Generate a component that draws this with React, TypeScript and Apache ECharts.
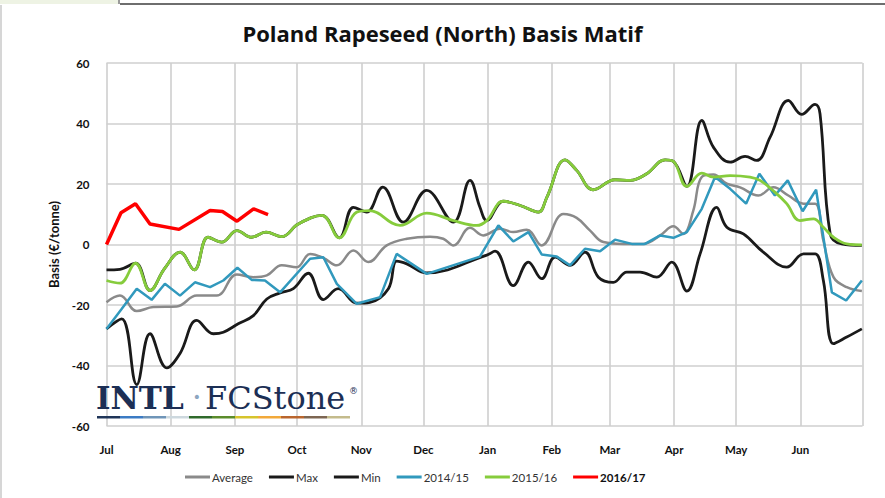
import React, { useEffect, useRef } from "react";
import * as echarts from "echarts";

// Days since 1 July for each month boundary
const monthStarts = [0, 31, 62, 92, 123, 153, 184, 215, 243, 274, 304, 335, 365];
const monthNames = ["Jul", "Aug", "Sep", "Oct", "Nov", "Dec", "Jan", "Feb", "Mar", "Apr", "May", "Jun"];

// [day of season, basis €/t]
const average: [number, number][] = [
  [0, -19.1], [6.5, -16.9], [14.6, -22], [22.6, -20.7], [33.9, -20.5], [43.6, -16.9], [53.2, -16.9],
  [62.9, -9.9], [70.9, -10.8], [77.4, -10.2], [84.6, -6.9], [91.8, -7.5], [98.3, -3.1], [104.7, -4.4],
  [111.2, -6.9], [119.2, -2], [126.4, -5.8], [135.3, -0.3], [145, 1.9], [156.2, 2.6], [162.6, 1.9],
  [167.5, -0.3], [175.5, 5.5], [181.9, 3], [190, 5.2], [196.4, 4.1], [202.9, 4.9], [210.1, -0.3],
  [220.6, 10.1], [227, 8.8], [233.5, 4.6], [239.9, 0.8], [249.5, 0.2], [259.2, 0.2], [267.3, 3],
  [273.7, 6], [278.5, 3.5], [283.3, 11.2], [287.4, 22.3], [293, 23.1], [299.5, 20.1], [305.9, 18.9],
  [314.7, 16.2], [322, 18.9], [329.2, 16.2], [336.5, 13.5], [342.1, 13.5], [346.1, 1.3], [351, -10.8],
  [357.4, -14.1], [364.7, -15.4],
];

const maxLine: [number, number][] = [
  [0, -8.4], [6.5, -8.2], [14, -6.2], [21, -15.2], [28, -8], [35.5, -2.5], [42.4, -8.4], [49, 2.4],
  [55.6, 0.8], [63, 4.6], [70, 2.4], [77, 4.1], [84.6, 2.6], [92.6, 6.8], [104, 9.6], [112.4, 2.2],
  [119.2, 12.3], [125.6, 10.7], [133.4, 19], [143.3, 7.4], [154.6, 17.9], [167.5, 7.4], [175.5, 21.2],
  [180.3, 12.3], [183.6, 7.9], [191.6, 14.3], [199.7, 12.9], [208.5, 10.7], [212.6, 15.6], [221.4, 28],
  [227, 24.5], [235, 18.1], [245.5, 21.4], [252.8, 21.2], [260.8, 23.4], [269.7, 28], [273.7, 27.5],
  [280.2, 19.2], [287.4, 41], [293, 32.2], [301.1, 27.2], [308.3, 29.1], [313.9, 27.8], [320.4, 35.5],
  [329.2, 47.6], [335.6, 43], [342.1, 46.3], [344.5, 43.2], [349.4, 3.5], [355, 0.2], [364.7, -0.3],
];

const minLine: [number, number][] = [
  [0, -27.9], [7.3, -24.6], [14.6, -46.3], [21, -29.5], [29.1, -40.8], [35.5, -36], [43.6, -25.1],
  [51.6, -29.5], [56.4, -29], [63.6, -26.2], [70.9, -23.5], [77.4, -18], [83.8, -16], [90.2, -14.6],
  [97.4, -9.5], [104.7, -18.2], [111.9, -14.6], [120.8, -19.4], [127.2, -19.1], [136.1, -14.6],
  [140.1, -5.5], [145, -6.4], [154.6, -9.4], [183.6, -3.5], [187.6, -2.2], [196.4, -13.6], [203.7, -5.8],
  [210.1, -11.3], [216.6, -4.2], [223.8, -6.9], [231, -2.5], [237.5, -10.8], [244.7, -12.5],
  [251.2, -9.1], [257.6, -9.1], [265.7, -10.8], [272.9, -5.8], [280.2, -15.4], [286.6, -3.1],
  [294.6, 12.3], [299.5, 5.7], [307.5, 3.5], [317.1, -2.5], [328.4, -7.5], [336.5, -3.1], [342.1, -3.1],
  [346.1, -11.9], [351, -32.8], [357.4, -30.6], [364.7, -27.9],
];

const season1415: [number, number][] = [
  [0, -27.9], [7.3, -21.3], [14.6, -14.6], [21.8, -18.3], [28.2, -13], [35.5, -16.9], [42.7, -12.5],
  [50, -14.1], [56.4, -11.9], [63.2, -7.7], [70.1, -11.7], [76.5, -11.9], [83.8, -15.8], [98.3, -4.7],
  [104.7, -4.2], [111.2, -13], [120.8, -19.6], [132.1, -17.4], [140.1, -3.1], [154.6, -9.7],
  [180.3, -4], [189.2, 6.3], [196.4, 1], [203.7, 4.1], [210.1, -3.3], [217.4, -4], [223.8, -6.9],
  [231, -1.4], [238.3, -2.2], [245.5, 1.6], [253.6, 0.2], [260, 0.2], [267.3, 3], [273.7, 2.2],
  [280.2, 4.1], [287.4, 11.8], [293.8, 22.3], [301.1, 18.4], [308.8, 13.5], [315.2, 23.4],
  [322.7, 16.2], [328.9, 21.2], [336.1, 11], [342.6, 18.1], [350.2, -15.8], [357.1, -18.5],
  [364.7, -11.9],
];

const season1516: [number, number][] = [
  [0, -11.9], [6.5, -12.8], [14, -6.2], [21, -15.2], [28, -8], [35.5, -2.5], [42.4, -8.4], [49, 2.4],
  [55.6, 0.8], [63, 4.6], [70, 2.4], [77, 4.1], [84.6, 2.6], [92.6, 6.8], [104, 9.6], [112.4, 2.2],
  [120.8, 10.7], [127, 11.2], [141.7, 6.3], [154.6, 10.4], [167.5, 7.9], [178.8, 6.3], [183.6, 7.9],
  [191.6, 14.3], [199.7, 12.9], [208.5, 10.7], [212.6, 15.6], [221.4, 28], [227, 24.5], [235, 18.1],
  [245.5, 21.4], [252.8, 21.2], [260.8, 23.4], [269.7, 28], [273.7, 27.5], [280.2, 19.2],
  [287.4, 23.6], [293, 22.3], [301.1, 22.8], [310.7, 22.3], [315.5, 21.2], [322.7, 17.3],
  [328.4, 13.5], [334.8, 7.9], [341.3, 8.5], [346.1, 5.7], [351, 2.4], [357.4, 0.2], [364.7, -0.1],
];

const season1617: [number, number][] = [
  [0, 0], [7, 10.5], [14, 13.5], [21, 6.8], [35, 5], [50, 11.2], [56, 10.9], [63, 7.7], [71, 11.8],
  [78, 9.9],
];

const logoStripeColors = [
  "#1f3558", "#3b7bc4", "#6f95b8", "#cdd8de", "#2f6a2c", "#5b8c2b",
  "#d6c42c", "#f2a93a", "#b9652d", "#7d6652", "#c4bb8c",
];

const FONT = "Lato, 'Liberation Sans', sans-serif";

export default function App() {
  const ref = useRef<HTMLDivElement>(null);

  useEffect(() => {
    if (!ref.current) return;
    const chart = echarts.init(ref.current, null, { renderer: "svg" });

    const lineSeries = (name: string, data: [number, number][], color: string, width: number, smooth: boolean | number) => ({
      name,
      type: "line",
      data,
      showSymbol: false,
      symbol: "none",
      smooth,
      lineStyle: { color, width },
      itemStyle: { color },
      emphasis: { disabled: true },
    });

    const stripe = logoStripeColors.map((c, i) => ({
      type: "rect",
      shape: { x: 97 + i * 23, y: 416, width: 23, height: 2.5 },
      style: { fill: c },
      z: 100,
    }));

    chart.setOption({
      animation: false,
      backgroundColor: "#ffffff",
      textStyle: { fontFamily: FONT },
      title: {
        text: "Poland Rapeseed (North) Basis Matif",
        left: "center",
        top: 17,
        textStyle: { fontFamily: "'Open Sans', Lato, sans-serif", fontSize: 22, fontWeight: "bold", color: "#111" },
      },
      grid: { left: 106.5, right: 22.5, top: 63, bottom: 72, containLabel: false },
      xAxis: {
        type: "value",
        min: 0,
        max: 365,
        axisLine: { show: false },
        axisTick: { show: false, customValues: monthStarts },
        axisLabel: {
          customValues: monthStarts.slice(0, 12),
          formatter: (v: number) => {
            const i = monthStarts.indexOf(Math.round(v));
            return i >= 0 && i < 12 ? monthNames[i] : "";
          },
          fontFamily: FONT,
          fontSize: 11.5,
          fontWeight: "bold",
          color: "#111",
          margin: 17,
        },
        splitLine: { show: true, lineStyle: { color: "#cfcfcf", width: 1.6 } },
      },
      yAxis: {
        type: "value",
        min: -60,
        max: 60,
        interval: 20,
        name: "Basis (€/tonne)",
        nameLocation: "middle",
        nameGap: 42,
        nameRotate: 90,
        nameTextStyle: { fontFamily: FONT, fontSize: 13, fontWeight: "bold", color: "#111" },
        axisLine: { show: false },
        axisTick: { show: false },
        axisLabel: { fontFamily: FONT, fontSize: 11.5, fontWeight: "bold", color: "#111", margin: 17 },
        splitLine: { show: true, lineStyle: { color: "#cfcfcf", width: 1.6 } },
      },
      legend: {
        left: 180,
        top: 466,
        icon: "rect",
        itemWidth: 25,
        itemHeight: 3,
        itemGap: 16,
        textStyle: { fontFamily: FONT, fontSize: 11.5, color: "#333", padding: [0, 0, 0, -3] },
        data: [
          { name: "Average" },
          { name: "Max" },
          { name: "Min" },
          { name: "2014/15" },
          { name: "2015/16" },
          { name: "2016/17", textStyle: { fontWeight: "bold", color: "#111" } },
        ],
      },
      series: [
        lineSeries("Average", average, "#8a8a8a", 2.5, 0.4),
        lineSeries("Max", maxLine, "#1a1a1a", 2.8, 0.4),
        lineSeries("Min", minLine, "#1a1a1a", 2.8, 0.4),
        lineSeries("2014/15", season1415, "#3199bd", 2.5, false),
        lineSeries("2015/16", season1516, "#86cc3c", 2.8, 0.4),
        lineSeries("2016/17", season1617, "#ff0000", 3.5, false),
      ],
      graphic: [
        { type: "line", shape: { x1: 120, y1: 4, x2: 885, y2: 4 }, style: { stroke: "#6e6e6e", lineWidth: 2 } },
        { type: "line", shape: { x1: 119, y1: 0, x2: 119, y2: 4 }, style: { stroke: "#9a9a9a", lineWidth: 2 } },
        { type: "rect", shape: { x: 0, y: 0, width: 118, height: 4 }, style: { fill: "#eef3e4" } },
        { type: "line", shape: { x1: 1, y1: 5, x2: 1, y2: 498 }, style: { stroke: "#c8c8c8", lineWidth: 1.5 } },
        {
          type: "text",
          left: 96,
          top: 382,
          z: 100,
          style: { text: "INTL", font: "bold 31px 'DejaVu Serif'", fill: "#1c2f55" },
        },
        {
          type: "text",
          left: 193,
          top: 386,
          z: 100,
          style: { text: "·", font: "bold 22px 'DejaVu Serif'", fill: "#8da6bf" },
        },
        {
          type: "text",
          left: 205,
          top: 382,
          z: 100,
          style: { text: "FCStone", font: "32px 'DejaVu Serif'", fill: "#1c2f55" },
        },
        {
          type: "text",
          left: 349,
          top: 386,
          z: 100,
          style: { text: "®", font: "9px 'DejaVu Sans'", fill: "#1c2f55" },
        },
        ...stripe,
      ],
    });

    return () => chart.dispose();
  }, []);

  return (
    <div
      ref={ref}
      style={{ position: "fixed", left: 0, top: 0, width: 885, height: 498, background: "#fff" }}
    />
  );
}
